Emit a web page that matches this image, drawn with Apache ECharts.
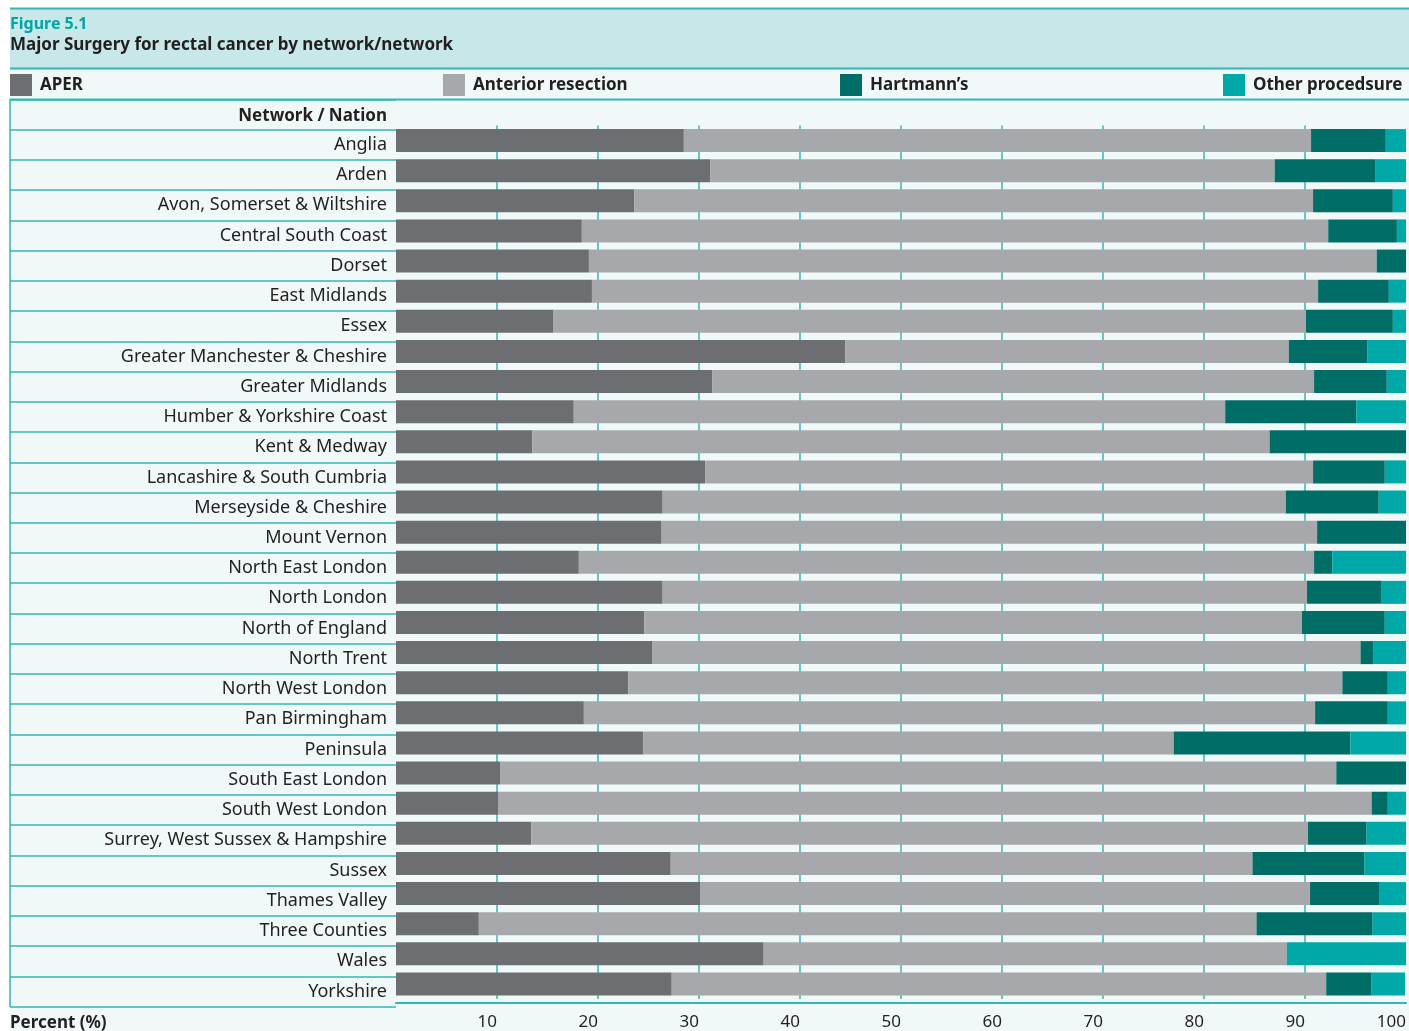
<!DOCTYPE html>
<html>
<head>
<meta charset="utf-8">
<script src="https://cdn.jsdelivr.net/npm/echarts@6/dist/echarts.min.js"></script>
<style>
  html, body { margin: 0; padding: 0; background: #ffffff; overflow: hidden; }
  #chart { width: 1409px; height: 1031px; }
</style>
</head>
<body>
<div id="chart"></div>
<script>
// Networks, top to bottom
const networks = [
  "Anglia", "Arden", "Avon, Somerset & Wiltshire", "Central South Coast", "Dorset",
  "East Midlands", "Essex", "Greater Manchester & Cheshire", "Greater Midlands",
  "Humber & Yorkshire Coast", "Kent & Medway", "Lancashire & South Cumbria",
  "Merseyside & Cheshire", "Mount Vernon", "North East London", "North London",
  "North of England", "North Trent", "North West London", "Pan Birmingham",
  "Peninsula", "South East London", "South West London", "Surrey, West Sussex & Hampshire",
  "Sussex", "Thames Valley", "Three Counties", "Wales", "Yorkshire"
];

// percentages
const aper      = [28.5, 31.1, 23.6, 18.4, 19.1, 19.4, 15.6, 44.5, 31.3, 17.6, 13.5, 30.6, 26.4, 26.3, 18.1, 26.4, 24.6, 25.4, 23.0, 18.6, 24.5, 10.3, 10.1, 13.4, 27.2, 30.1, 8.2, 36.4, 27.3];
const anterior  = [62.1, 55.9, 67.2, 73.9, 78.0, 71.9, 74.5, 43.9, 59.6, 64.5, 73.0, 60.2, 61.7, 64.9, 72.8, 63.8, 65.1, 70.1, 70.7, 72.4, 52.5, 82.8, 86.5, 76.9, 57.6, 60.4, 77.0, 51.8, 64.8];
const hartmann  = [7.4, 10.0, 7.9, 6.8, 2.9, 7.0, 8.6, 7.8, 7.2, 13.0, 13.5, 7.1, 9.2, 8.8, 1.8, 7.4, 8.2, 1.3, 4.5, 7.2, 17.5, 6.9, 1.6, 5.8, 11.1, 6.9, 11.5, 0, 4.5];
const other     = [2.0, 3.0, 1.3, 0.9, 0, 1.7, 1.3, 3.8, 1.9, 4.9, 0, 2.1, 2.7, 0, 7.4, 2.4, 2.1, 3.2, 1.8, 1.8, 5.5, 0, 1.8, 3.9, 4.1, 2.6, 3.3, 11.8, 3.3];

const seriesNames = ["APER", "Anterior resection", "Hartmann\u2019s", "Other procedsure"];
const colors = ["#6d6e71", "#a7a8ab", "#006d66", "#00a8a8"];

const teal = "#35b6b6";
const ink = "#231f20";
const font = "Noto Sans";

let dom = document.getElementById("chart");
let myChart = echarts.init(dom, null, { renderer: "canvas" });

// one legend per item so each can sit where the original puts it
const legendLefts = [10, 443, 840, 1223];
const legends = seriesNames.map((name, i) => ({
  data: [name],
  left: legendLefts[i],
  top: 74,
  padding: 0,
  icon: "rect",
  itemWidth: 22,
  itemHeight: 22,
  itemGap: 0,
  selectedMode: false,
  textStyle: { fontFamily: font, fontSize: 17, fontWeight: "bold", color: ink, padding: [0, 0, 0, 3] }
}));

const barData = [aper, anterior, hartmann, other];

let option = {
  backgroundColor: "#ffffff",
  animation: false,
  color: colors,
  legend: legends,
  graphic: [
    { type: "rect", z: -10, shape: { x: 10, y: 8, width: 1399, height: 1023 }, style: { fill: "#f1f9f8" } },
    { type: "rect", z: -9, shape: { x: 10, y: 8, width: 1399, height: 60 }, style: { fill: "#c7e7e8" } },
    { type: "line", shape: { x1: 10, y1: 8.5, x2: 1409, y2: 8.5 }, style: { stroke: teal, lineWidth: 2 } },
    { type: "line", shape: { x1: 10, y1: 68.5, x2: 1409, y2: 68.5 }, style: { stroke: teal, lineWidth: 2 } },
    { type: "line", shape: { x1: 10, y1: 99.5, x2: 1409, y2: 99.5 }, style: { stroke: teal, lineWidth: 2 } },
    { type: "text", left: 10, top: 16, style: { text: "Figure 5.1", fill: "#00a5a5", font: "bold 16px " + font } },
    { type: "text", left: 10, top: 37, style: { text: "Major Surgery for rectal cancer by network/network", fill: ink, font: "bold 17px " + font } },
    { type: "text", left: 10, top: 1015, style: { text: "Percent (%)", fill: ink, font: "bold 17px " + font } }
  ],
  grid: [
    // bars
    { left: 396, right: 0, top: 125.5, bottom: 28.5 },
    // label column rows (header + networks)
    { left: 10, width: 386, top: 99.5, bottom: 24.5 }
  ],
  xAxis: [
    {
      gridIndex: 0,
      type: "value",
      min: 0,
      max: 100,
      interval: 10,
      offset: 4,
      axisLine: { show: true, lineStyle: { color: teal, width: 2 } },
      axisTick: { show: false },
      axisLabel: { showMinLabel: false, align: "right", margin: 11, fontFamily: font, fontSize: 17, color: ink },
      splitLine: { show: true, showMinLine: false, showMaxLine: false, lineStyle: { color: teal, width: 1.5 } }
    },
    { gridIndex: 1, type: "value", show: false }
  ],
  yAxis: [
    {
      gridIndex: 0,
      type: "category",
      inverse: true,
      data: networks,
      axisLine: { show: false },
      axisTick: { show: false },
      axisLabel: { show: false }
    },
    {
      gridIndex: 1,
      type: "category",
      inverse: true,
      position: "right",
      data: ["Network / Nation"].concat(networks),
      axisLine: { show: true, lineStyle: { color: teal, width: 1.5 } },
      axisTick: { show: false },
      splitLine: { show: true, lineStyle: { color: teal, width: 1.5 } },
      axisLabel: {
        inside: true,
        margin: 9,
        fontFamily: font,
        fontSize: 18,
        color: ink,
        formatter: function (v, i) {
          return i === 0 ? "{h|" + v + "}" : v;
        },
        rich: { h: { fontFamily: font, fontSize: 17, fontWeight: "bold", color: ink, padding: [3, 0, 0, 0] } }
      }
    }
  ],
  series: seriesNames.map((name, i) => ({
    name: name,
    type: "bar",
    stack: "total",
    xAxisIndex: 0,
    yAxisIndex: 0,
    barWidth: 23,
    itemStyle: { color: colors[i] },
    data: barData[i]
  }))
};

myChart.setOption(option);
window.addEventListener("resize", myChart.resize);
</script>
</body>
</html>
